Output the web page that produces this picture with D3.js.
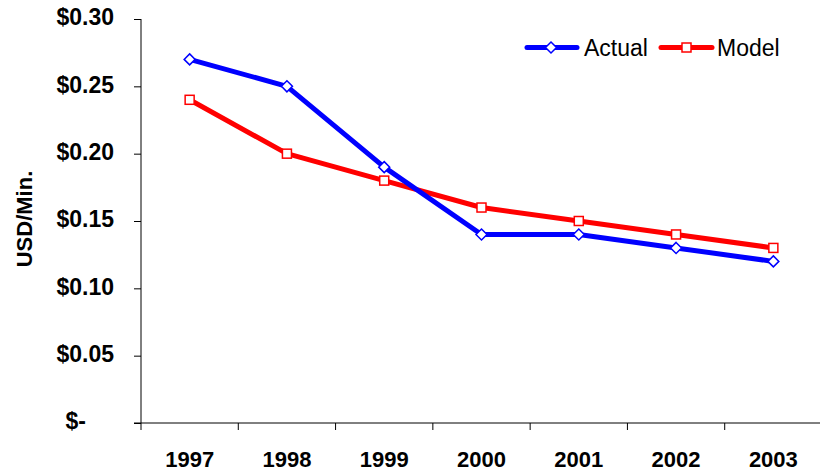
<!DOCTYPE html>
<html><head><meta charset="utf-8">
<script src="https://cdn.jsdelivr.net/npm/d3@7"></script>
<style>body{margin:0;background:#fff}svg{display:block;font-family:"Liberation Sans",Arial,sans-serif}</style>
</head><body>
<svg id="c" width="820" height="471"></svg>
<script>
const years = ["1997","1998","1999","2000","2001","2002","2003"];
const actual = [0.27,0.25,0.19,0.14,0.14,0.13,0.12];
const model = [0.24,0.20,0.18,0.16,0.15,0.14,0.13];
const yTicks = [0,0.05,0.10,0.15,0.20,0.25,0.30];

const svg = d3.select("#c");
const x = d3.scaleBand().domain(years).range([141,822]);
const y = d3.scaleLinear().domain([0,0.30]).range([423,19]);

// y axis
const ya = svg.append("g").attr("transform","translate(141,0)")
  .call(d3.axisLeft(y).tickValues(yTicks).tickSize(7).tickPadding(20)
    .tickFormat(d => d===0 ? "$-" : "$"+d3.format(".2f")(d)));
ya.select(".domain").attr("d","M0,19V423").attr("stroke","#000");
ya.selectAll(".tick line").attr("stroke","#000");
ya.selectAll("text").attr("font-size","23px").attr("font-weight","bold").attr("fill","#000")
  .attr("font-family","'Liberation Sans',Arial,sans-serif")
  .attr("text-anchor","end").attr("dy","0.25em").attr("dx", d => d===0 ? "-28px" : "0");

// x axis
const xa = svg.append("g").attr("transform","translate(0,423)")
  .call(d3.axisBottom(x).tickSize(0));
xa.select(".domain").attr("d","M134,0H820").attr("stroke","#000");
xa.selectAll("text").attr("font-size","22px").attr("font-weight","bold").attr("fill","#000")
  .attr("font-family","'Liberation Sans',Arial,sans-serif").attr("y",44).attr("dy",0);
const bounds = years.map(d => x(d)).concat([x(years[6])+x.bandwidth()]);
xa.selectAll(".sep").data(bounds.slice(0,-1)).enter().append("line")
  .attr("x1",d=>d).attr("x2",d=>d).attr("y1",0).attr("y2",7).attr("stroke","#000");

// y title
svg.append("text").attr("transform","translate(32,219) rotate(-90)")
  .attr("text-anchor","middle").attr("font-size","22px").attr("font-weight","bold")
  .text("USD/Min.");

const cx = d => x(d) + x.bandwidth()/2;
const line = d3.line().x((d,i)=>cx(years[i])).y(d=>y(d));

svg.append("path").datum(model).attr("d",line).attr("fill","none")
  .attr("stroke","#ff0000").attr("stroke-width",5).attr("stroke-linejoin","round");
svg.append("path").datum(actual).attr("d",line).attr("fill","none")
  .attr("stroke","#0000ff").attr("stroke-width",5).attr("stroke-linejoin","round");

const diamond = (cxv,cyv,r) => `M${cxv},${cyv-r}L${cxv+r},${cyv}L${cxv},${cyv+r}L${cxv-r},${cyv}Z`;

svg.selectAll(".mm").data(model).enter().append("rect")
  .attr("x",(d,i)=>cx(years[i])-4.5).attr("y",d=>y(d)-4.5).attr("width",9).attr("height",9)
  .attr("fill","#fff").attr("stroke","#ff0000").attr("stroke-width",1.5);
svg.selectAll(".ma").data(actual).enter().append("path")
  .attr("d",(d,i)=>diamond(cx(years[i]),y(d),5.5))
  .attr("fill","#fff").attr("stroke","#0000ff").attr("stroke-width",1.5);

// legend
const lg = svg.append("g");
lg.append("line").attr("x1",527).attr("x2",577).attr("y1",47.5).attr("y2",47.5)
  .attr("stroke","#0000ff").attr("stroke-width",5).attr("stroke-linecap","round");
lg.append("path").attr("d",diamond(551,47.5,5.5)).attr("fill","#fff").attr("stroke","#0000ff").attr("stroke-width",1.5);
lg.append("text").attr("x",584).attr("y",56).attr("font-size","23px").text("Actual");
lg.append("line").attr("x1",661).attr("x2",712).attr("y1",47.5).attr("y2",47.5)
  .attr("stroke","#ff0000").attr("stroke-width",5).attr("stroke-linecap","round");
lg.append("rect").attr("x",682).attr("y",43).attr("width",9).attr("height",9)
  .attr("fill","#fff").attr("stroke","#ff0000").attr("stroke-width",1.5);
lg.append("text").attr("x",717).attr("y",56).attr("font-size","23px").text("Model");
</script>
</body></html>
